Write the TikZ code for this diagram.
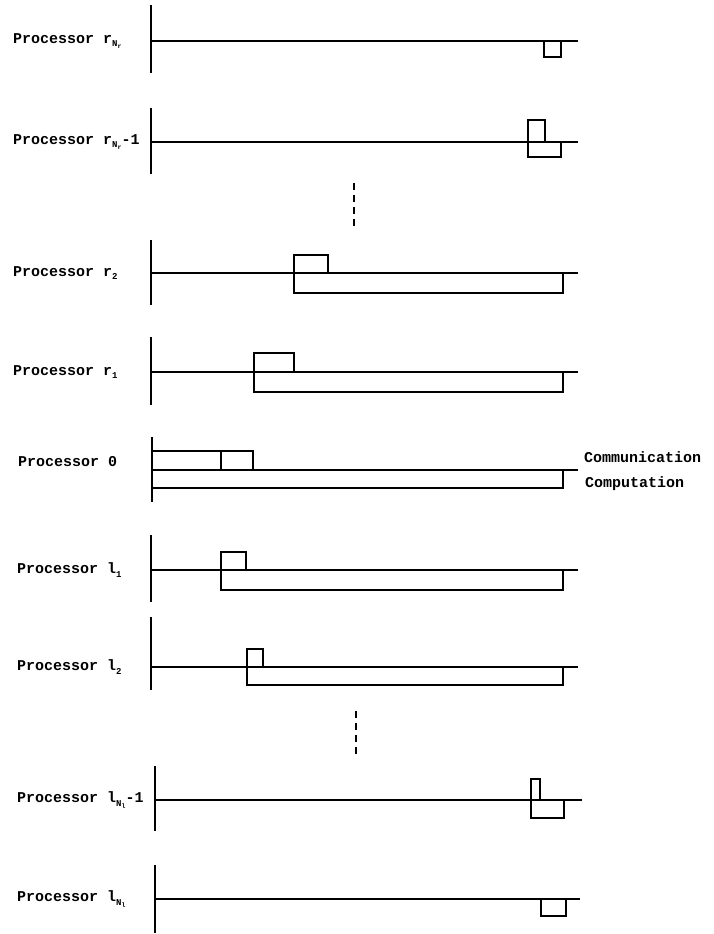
\documentclass[tikz,border=0pt]{standalone}
\usepackage{fontspec}
\setmonofont{Liberation Mono}
\newcommand{\lowtxt}[1]{\raisebox{-0.45ex}{\fontsize{9}{9}\selectfont #1}}
\newcommand{\lowlowtxt}[1]{\raisebox{-0.4ex}{\fontsize{6.5}{6.5}\selectfont #1}}
\begin{document}
\begin{tikzpicture}[x=1pt,y=-1pt,
  axisline/.style={line width=1.8pt},
  tl/.style={line width=1.1pt},
  boxln/.style={line width=1.3pt},
  dots/.style={line width=1.4pt,dash pattern=on 7pt off 5pt},
  lbl/.style={anchor=west,inner sep=0pt,font=\ttfamily\bfseries\fontsize{15}{18}\selectfont}]
\useasboundingbox (0,0) rectangle (713,934);
% ---------- labels ----------
\node[lbl] (Lrn)  at (13,41)  {Processor r\lowtxt{N\lowlowtxt{r}}};
\node[lbl] (Lrn1) at (13,142) {Processor r\lowtxt{N\lowlowtxt{r}}-1};
\node[lbl] (Lr2)  at (13,273) {Processor r\lowtxt{2}};
\node[lbl] (Lr1)  at (13,372) {Processor r\lowtxt{1}};
\node[lbl] (L0)   at (18,462) {Processor 0};
\node[lbl] (Ll1)  at (17,570) {Processor l\lowtxt{1}};
\node[lbl] (Ll2)  at (17,667) {Processor l\lowtxt{2}};
\node[lbl] (Lln1) at (17,800) {Processor l\lowtxt{N\lowlowtxt{l}}-1};
\node[lbl] (Lln)  at (17,899) {Processor l\lowtxt{N\lowlowtxt{l}}};
\node[lbl] (Lcomm) at (584,457) {Communication};
\node[lbl] (Lcomp) at (585,484) {Computation};
% ---------- row r_Nr ----------
\draw[axisline] (151,5) -- (151,73);
\draw[tl] (151,41) -- (578,41);
\draw[boxln] (544,41) -- (544,57) -- (561,57) -- (561,41);
% ---------- row r_Nr - 1 ----------
\draw[axisline] (151,108) -- (151,174);
\draw[tl] (151,142) -- (578,142);
\draw[boxln] (528,142) -- (528,120) -- (545,120) -- (545,142);
\draw[boxln] (528,142) -- (528,157) -- (561,157) -- (561,142);
% ---------- dots ----------
\draw[dots] (354,183) -- (354,229);
% ---------- row r_2 ----------
\draw[axisline] (151,240) -- (151,305);
\draw[tl] (151,273) -- (578,273);
\draw[boxln] (294,273) -- (294,255) -- (328,255) -- (328,273);
\draw[boxln] (294,273) -- (294,293) -- (563,293) -- (563,273);
% ---------- row r_1 ----------
\draw[axisline] (151,337) -- (151,405);
\draw[tl] (151,372) -- (578,372);
\draw[boxln] (254,372) -- (254,353) -- (294,353) -- (294,372);
\draw[boxln] (254,372) -- (254,392) -- (563,392) -- (563,372);
% ---------- row 0 ----------
\draw[axisline] (152,437) -- (152,502);
\draw[tl] (152,470) -- (578,470);
\draw[boxln] (152,451) -- (253,451) -- (253,470);
\draw[boxln] (221,451) -- (221,470);
\draw[boxln] (152,488) -- (563,488) -- (563,470);
% ---------- row l_1 ----------
\draw[axisline] (151,535) -- (151,602);
\draw[tl] (151,570) -- (578,570);
\draw[boxln] (221,570) -- (221,552) -- (246,552) -- (246,570);
\draw[boxln] (221,570) -- (221,590) -- (563,590) -- (563,570);
% ---------- row l_2 ----------
\draw[axisline] (151,617) -- (151,690);
\draw[tl] (151,667) -- (578,667);
\draw[boxln] (247,667) -- (247,649) -- (263,649) -- (263,667);
\draw[boxln] (247,667) -- (247,685) -- (563,685) -- (563,667);
% ---------- dots ----------
\draw[dots] (356,711) -- (356,757);
% ---------- row l_Nl - 1 ----------
\draw[axisline] (155,766) -- (155,831);
\draw[tl] (155,800) -- (582,800);
\draw[boxln] (531,800) -- (531,779) -- (540,779) -- (540,800);
\draw[boxln] (531,800) -- (531,818) -- (564,818) -- (564,800);
% ---------- row l_Nl ----------
\draw[axisline] (155,865) -- (155,933);
\draw[tl] (155,899) -- (580,899);
\draw[boxln] (541,899) -- (541,916) -- (566,916) -- (566,899);
\end{tikzpicture}
\end{document}
